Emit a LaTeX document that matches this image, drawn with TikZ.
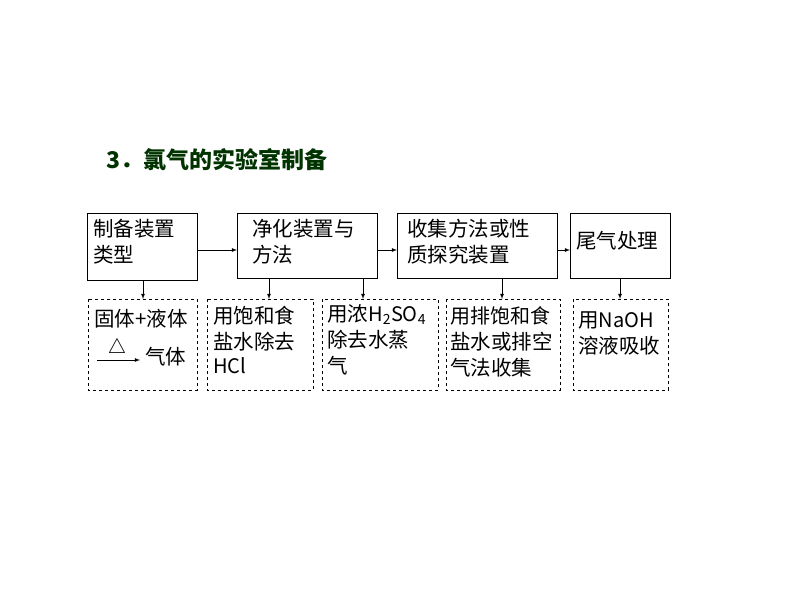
\documentclass[tikz,border=0pt]{standalone}
\usepackage{fontspec}
\setmainfont{Liberation Serif}
\newfontfamily\cjk{Noto Sans CJK SC}
\begin{document}
\begin{tikzpicture}[x=1pt,y=-1pt,
 sbox/.style={draw,line width=1pt,inner sep=0pt},
 dbox/.style={draw,dashed,line width=0.9pt,inner sep=0pt},
 txt/.style={anchor=north west,align=left,font=\cjk\fontsize{20.5}{26}\selectfont,inner sep=0pt},
 arr/.style={-latex,line width=0.8pt}]
\useasboundingbox (0,0) rectangle (794,596);
\node[anchor=west,font=\cjk\bfseries\fontsize{23}{26}\selectfont,text=black!80!green] (title) at (103,160) {3．氯气的实验室制备};
% solid boxes
\draw[sbox] (87,213) rectangle (197,280);
\coordinate (b1e) at (197,250);
\node[txt] at (93,219) {制备装置\\类型};
\draw[sbox] (237,213) rectangle (377,278);
\coordinate (b2w) at (237,250); \coordinate (b2e) at (377,250);
\node[txt] at (252,219) {净化装置与\\方法};
\draw[sbox] (397,213) rectangle (557,278);
\coordinate (b3w) at (397,250); \coordinate (b3e) at (557,250);
\node[txt] at (407,219) {收集方法或性\\质探究装置};
\draw[sbox] (570,213) rectangle (670,278);
\coordinate (b4w) at (570,250);
\node[txt] at (576,231) {尾气处理};
\draw[arr] (b1e) -- (b2w);
\draw[arr] (b2e) -- (b3w);
\draw[arr] (b3e) -- (b4w);
% dashed boxes
\draw[dbox] (88,299) rectangle (197,390);
\draw[dbox] (207,299) rectangle (313,390);
\draw[dbox] (322,299) rectangle (438,390);
\draw[dbox] (446,299) rectangle (560,390);
\draw[dbox] (573,299) rectangle (668,390);
\draw[arr] (143,280) -- (143,299);
\draw[arr] (269,278) -- (269,299);
\draw[arr] (363,278) -- (363,299);
\draw[arr] (502,278) -- (502,299);
\draw[arr] (620,278) -- (620,299);
\node[txt] at (94,309) {固体+液体};
\node[font=\fontsize{21}{21}\selectfont,inner sep=0pt] at (117,348) {$\triangle$};
\draw[arr] (97,360) -- (140,360);
\node[txt] at (145,347) {气体};
\node[txt] at (213,306) {用饱和食\\盐水除去\\[-2pt]{\fontsize{20}{20}\selectfont HCl}};
\node[txt] at (327,304) {用浓{\fontsize{20}{20}\selectfont H\textsubscript{2}SO\textsubscript{4}}\\除去水蒸\\气};
\node[txt] at (450,306) {\fontsize{20}{26}\selectfont 用排饱和食\\盐水或排空\\气法收集};
\node[txt] at (578,312) {用{\fontsize{20}{20}\selectfont NaOH}\\溶液吸收};
\end{tikzpicture}
\end{document}
